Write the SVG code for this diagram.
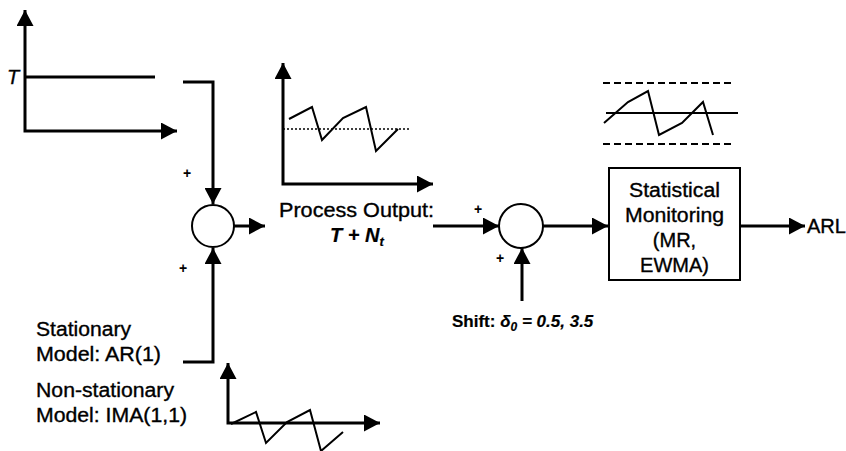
<svg xmlns="http://www.w3.org/2000/svg" width="846" height="451" viewBox="0 0 846 451">
<defs>
<marker id="ah" markerUnits="userSpaceOnUse" markerWidth="16" markerHeight="17" refX="16" refY="8.5" orient="auto-start-reverse" viewBox="0 0 16 17">
<path d="M0,0 L16,8.5 L0,17 Z" fill="#000"/>
</marker>
</defs>
<style>
.t{font-family:"Liberation Sans",Arial,sans-serif;font-size:20px;fill:#000;stroke:#000;stroke-width:0.35}
.b{font-weight:bold;stroke-width:0.2}
.i{font-style:italic}
.pl{font-family:"Liberation Sans",Arial,sans-serif;font-size:14px;font-weight:bold;fill:#000;text-anchor:middle}
.ax{fill:none;stroke:#000;stroke-width:3}
.cn{fill:none;stroke:#000;stroke-width:3}
.zz{fill:none;stroke:#000;stroke-width:2;stroke-linejoin:miter}
.sum{fill:#fff;stroke:#000;stroke-width:2}
.box{fill:#fff;stroke:#000;stroke-width:2}
</style>
<rect width="846" height="451" fill="#fff"/>

<g id="target-chart">
<path class="ax" d="M25,10 V131 H177" marker-start="url(#ah)" marker-end="url(#ah)"/>
<path class="ax" d="M25,77 H155"/>
<text class="t i" x="7" y="84" style="font-size:20px">T</text>
</g>

<g id="process-chart">
<path class="ax" d="M283,63 V184 H433" marker-start="url(#ah)" marker-end="url(#ah)"/>
<path d="M283,129 H409" fill="none" stroke="#000" stroke-width="1.3" stroke-dasharray="2,2"/>
<path class="zz" d="M289,119 L312,107 L322,140 L343,118 L366,107 L376,151 L398,129"/>
</g>

<g id="noise-chart">
<path class="ax" d="M228,363 V423 H380" marker-start="url(#ah)" marker-end="url(#ah)"/>
<path class="zz" d="M231,424 L256,412 L266,443 L287,422 L310,410 L321,451 L343,432"/>
</g>

<g id="control-chart">
<path d="M603,83 H735 M603,144 H735" fill="none" stroke="#000" stroke-width="2" stroke-dasharray="7,4"/>
<path d="M606,113 H738" fill="none" stroke="#000" stroke-width="2"/>
<path class="zz" d="M604,123 L628,102 L648,91 L659,135 L682,123 L703,102 L713,135"/>
</g>

<g id="connectors">
<path class="cn" d="M183,82 H213 V204" marker-end="url(#ah)"/>
<path class="cn" d="M183,362 H213 V248" marker-end="url(#ah)"/>
<path class="cn" d="M234,226 H265" marker-end="url(#ah)"/>
<path class="cn" d="M433,226 H499" marker-end="url(#ah)"/>
<path class="cn" d="M522,301 V248" marker-end="url(#ah)"/>
<path class="cn" d="M543,226 H608" marker-end="url(#ah)"/>
<path class="cn" d="M740,226 H805" marker-end="url(#ah)"/>
</g>

<g id="sum1">
<circle class="sum" cx="213" cy="226" r="21"/>
<text class="pl" x="187" y="178">+</text>
<text class="pl" x="183" y="273">+</text>
</g>

<g id="sum2">
<circle class="sum" cx="521" cy="226" r="22"/>
<text class="pl" x="478" y="214">+</text>
<text class="pl" x="500" y="263">+</text>
</g>

<g id="monitor">
<rect class="box" x="609" y="168" width="131" height="112"/>
<text class="t" x="674.5" y="197" text-anchor="middle" textLength="91" lengthAdjust="spacingAndGlyphs">Statistical</text>
<text class="t" x="674.5" y="222" text-anchor="middle" textLength="99" lengthAdjust="spacingAndGlyphs">Monitoring</text>
<text class="t" x="674.5" y="247" text-anchor="middle">(MR,</text>
<text class="t" x="674.5" y="272" text-anchor="middle">EWMA)</text>
</g>

<g id="arl">
<text class="t" x="807" y="233" textLength="39" lengthAdjust="spacingAndGlyphs">ARL</text>
</g>

<g id="process-output-label">
<text class="t" x="279" y="217" textLength="155" lengthAdjust="spacingAndGlyphs">Process Output:</text>
<text class="t b i" x="330" y="242">T + N<tspan style="font-size:13px" dy="4">t</tspan></text>
</g>

<g id="shift-label">
<text class="t b" x="452" y="327" style="font-size:17px">Shift: <tspan class="i">δ<tspan style="font-size:12px" dy="4">0</tspan><tspan dy="-4"> = 0.5, 3.5</tspan></tspan></text>
</g>

<g id="model-labels">
<text class="t" x="36" y="336" textLength="95" lengthAdjust="spacingAndGlyphs">Stationary</text>
<text class="t" x="36" y="361" textLength="125" lengthAdjust="spacingAndGlyphs">Model: AR(1)</text>
<text class="t" x="36" y="397" textLength="138" lengthAdjust="spacingAndGlyphs">Non-stationary</text>
<text class="t" x="36" y="422" textLength="151" lengthAdjust="spacingAndGlyphs">Model: IMA(1,1)</text>
</g>
</svg>
